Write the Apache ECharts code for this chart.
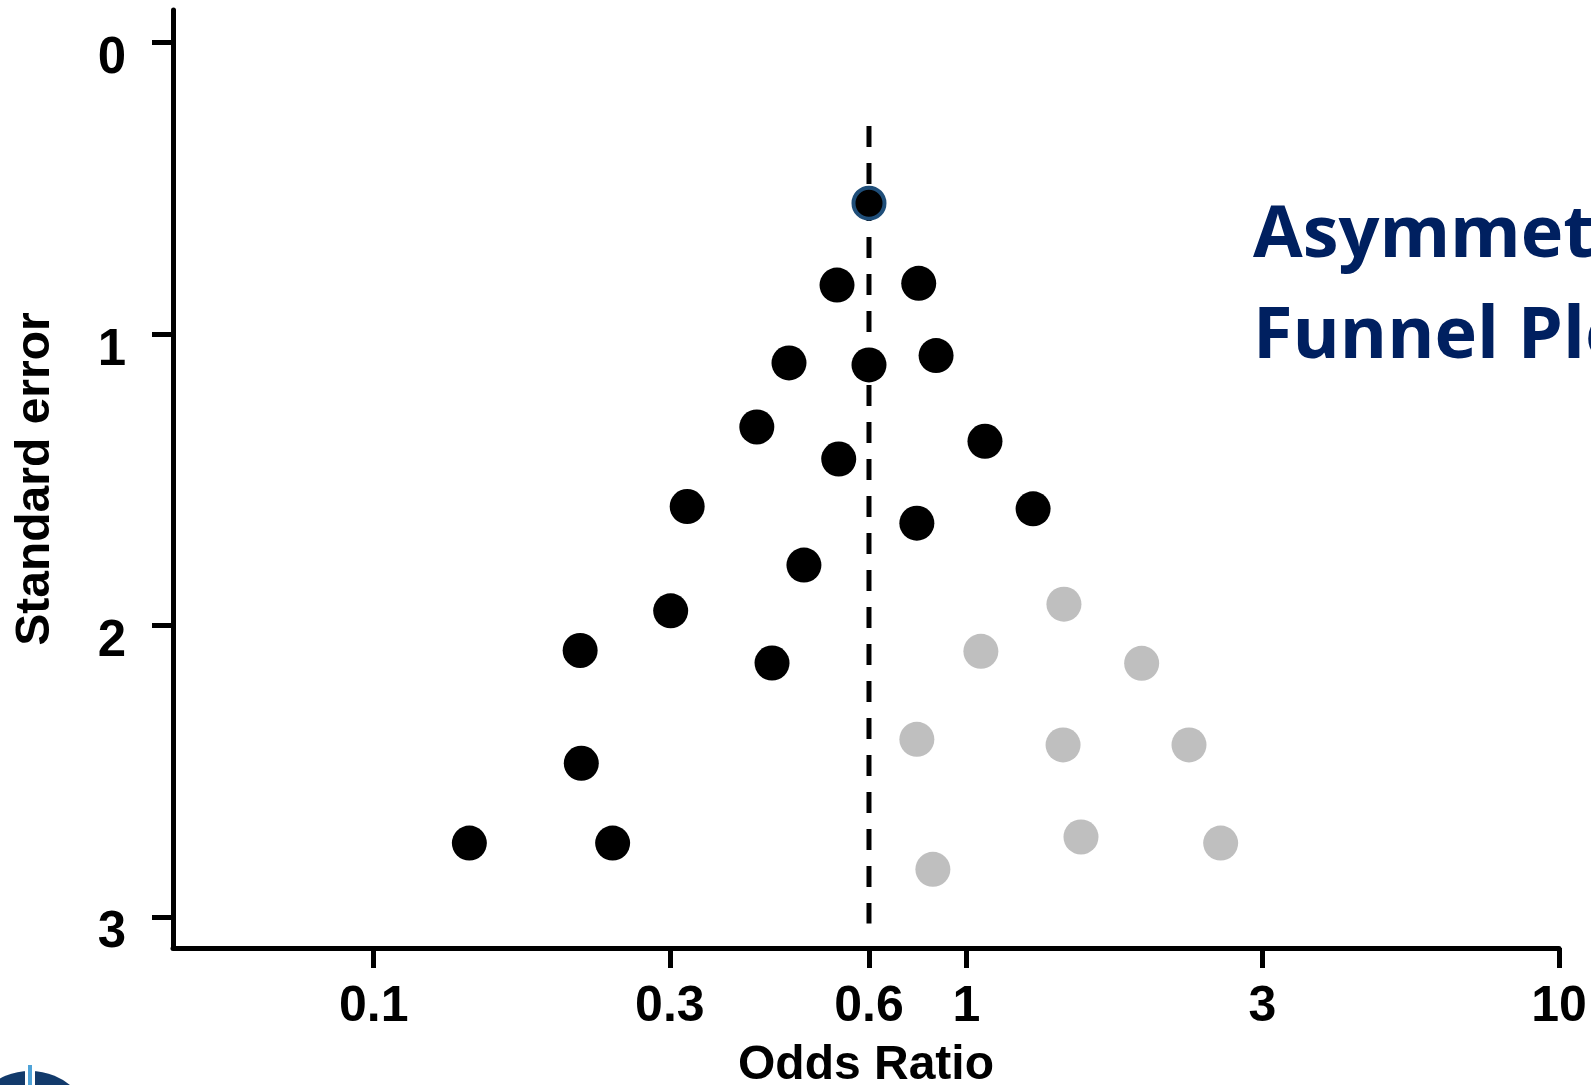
<!DOCTYPE html>
<html>
<head>
<meta charset="utf-8">
<script src="https://cdn.jsdelivr.net/npm/echarts@6/dist/echarts.min.js"></script>
<style>
  html, body { margin: 0; padding: 0; background: #fff; }
  #funnelChart { width: 1591px; height: 1085px; }
</style>
</head>
<body>
<div id="funnelChart"></div>
<script>
// odds ratio tick marks (as drawn) and their printed labels
const orTicks = [0.1, 0.316, 0.685, 1, 3.16, 10];
const orTickLabels = ['0.1', '0.3', '0.6', '1', '3', '10'];
const seTicks = [0, 1, 2, 3];

// published studies (black)
const studyOR = [0.605, 0.831, 0.502, 0.685, 0.889, 0.443, 0.609, 1.075, 0.338, 0.825,
                 1.296, 0.532, 0.317, 0.223, 0.470, 0.224, 0.145, 0.253];
const studySE = [0.832, 0.826, 1.099, 1.106, 1.074, 1.319, 1.429, 1.368, 1.592, 1.649,
                 1.600, 1.793, 1.950, 2.086, 2.129, 2.473, 2.747, 2.747];

// largest study, outlined
const topStudyOR = [0.685];
const topStudySE = [0.551];

// missing small studies (grey)
const missingOR = [1.461, 1.058, 1.976, 0.825, 1.456, 2.375, 1.561, 2.686, 0.878];
const missingSE = [1.927, 2.089, 2.130, 2.391, 2.410, 2.410, 2.726, 2.747, 2.837];

// pooled estimate line
const pooledOR = 0.685;
const pooledSE = [0.286, 3.023];

const chart = echarts.init(document.getElementById('funnelChart'));
const lg = v => Math.log10(v);
const tickLogs = orTicks.map(lg);
const font = '"Liberation Sans", Arial, sans-serif';

function pairs(xs, ys) {
  return xs.map((x, i) => [lg(x), ys[i]]);
}

chart.setOption({
  animation: false,
  backgroundColor: '#fff',
  title: {
    text: 'Asymmetric\nFunnel Plot',
    left: 1253,
    top: 186,
    padding: 0,
    textStyle: {
      fontFamily: '"Open Sans"',
      fontWeight: 'bold',
      fontSize: 72,
      lineHeight: 101,
      color: '#002060'
    }
  },
  grid: { left: 173, right: 32, top: 10, bottom: 137, outerBoundsMode: 'none', containLabel: false },
  xAxis: {
    type: 'value',
    min: -1.3387,
    max: 1,
    name: 'Odds Ratio',
    nameLocation: 'middle',
    nameGap: 94,
    nameTextStyle: { fontFamily: font, fontWeight: 'bold', fontSize: 48, color: '#000' },
    axisLine: { onZero: false, lineStyle: { color: '#000', width: 5 } },
    axisTick: { length: 20, lineStyle: { color: '#000', width: 5 }, customValues: tickLogs },
    axisLabel: {
      customValues: tickLogs,
      margin: 34,
      fontFamily: font, fontWeight: 'bold', fontSize: 50, color: '#000',
      formatter: v => {
        const i = tickLogs.findIndex(t => Math.abs(t - v) < 1e-6);
        return i >= 0 ? orTickLabels[i] : '';
      }
    },
    splitLine: { show: false }
  },
  yAxis: {
    type: 'value',
    inverse: true,
    min: -0.112,
    max: 3.107,
    name: 'Standard error',
    nameLocation: 'middle',
    nameGap: 113,
    nameTextStyle: { fontFamily: font, fontWeight: 'bold', fontSize: 48, color: '#000' },
    axisLine: { show: true, onZero: false, lineStyle: { color: '#000', width: 5 } },
    axisTick: { show: true, length: 21, lineStyle: { color: '#000', width: 5 }, customValues: seTicks },
    axisLabel: {
      customValues: seTicks,
      margin: 47,
      verticalAlign: 'top',
      lineHeight: 33,
      fontFamily: font, fontWeight: 'bold', fontSize: 51, color: '#000',
      formatter: v => String(v)
    },
    splitLine: { show: false }
  },
  series: [
    {
      name: 'Pooled',
      type: 'line',
      data: pooledSE.map(se => [lg(pooledOR), se]),
      symbol: 'none',
      lineStyle: { color: '#000', width: 5, type: [21, 16] },
      z: 1
    },
    {
      name: 'Missing studies',
      type: 'scatter',
      data: pairs(missingOR, missingSE),
      symbolSize: 35,
      itemStyle: { color: '#BFBFBF', opacity: 1 }
    },
    {
      name: 'Studies',
      type: 'scatter',
      data: pairs(studyOR, studySE),
      symbolSize: 35,
      itemStyle: { color: '#000', opacity: 1 }
    },
    {
      name: 'Largest study',
      type: 'scatter',
      data: pairs(topStudyOR, topStudySE),
      symbolSize: 31,
      itemStyle: { color: '#000', borderColor: '#1F4E79', borderWidth: 4, opacity: 1 }
    }
  ],
  graphic: [
    {
      type: 'circle',
      shape: { cx: 30, cy: 1135, r: 64 },
      style: { fill: '#123A6B' },
      silent: true
    },
    {
      type: 'rect',
      shape: { x: 25, y: 1065, width: 10, height: 30 },
      style: { fill: '#fff' },
      silent: true
    },
    {
      type: 'rect',
      shape: { x: 28, y: 1065, width: 4, height: 30 },
      style: { fill: '#4FA3D8' },
      silent: true
    }
  ]
});
</script>
</body>
</html>
